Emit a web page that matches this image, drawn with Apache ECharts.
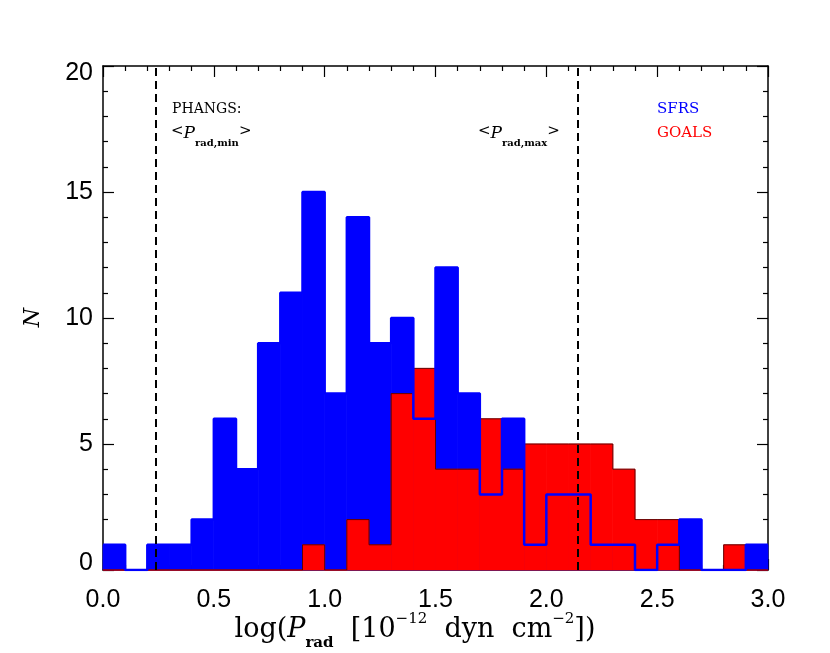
<!DOCTYPE html>
<html>
<head>
<meta charset="utf-8">
<script src="https://cdn.jsdelivr.net/npm/echarts@6/dist/echarts.min.js"></script>
<style>
  html, body { margin: 0; padding: 0; background: #fff; }
  #chartshow { width: 830px; height: 653px; }
</style>
</head>
<body>
<div id="chartshow"></div>
<script>
// bin left edges, width 0.1
const binStarts = [0.0, 0.1, 0.2, 0.3, 0.4, 0.5, 0.6, 0.7, 0.8, 0.9,
  1.0, 1.1, 1.2, 1.3, 1.4, 1.5, 1.6, 1.7, 1.8, 1.9,
  2.0, 2.1, 2.2, 2.3, 2.4, 2.5, 2.6, 2.7, 2.8, 2.9];
const binWidth = 0.1;
// SFRS counts (blue)
const sfrsCounts = [1, 0, 1, 1, 2, 6, 4, 9, 11, 15,
  7, 14, 9, 10, 6, 12, 7, 3, 6, 1,
  3, 3, 1, 1, 0, 1, 2, 0, 0, 1];
// GOALS counts (red)
const goalsCounts = [0, 0, 0, 0, 0, 0, 0, 0, 0, 1,
  0, 2, 1, 7, 8, 4, 4, 6, 4, 5,
  5, 5, 5, 4, 2, 2, 0, 0, 1, 0];
// PHANGS mean min / max (dashed lines)
const phangsLines = [0.24, 2.14];

const xTicks = { min: 0, max: 3, interval: 0.5 };
const yTicks = { min: 0, max: 20, interval: 5 };

const serif = 'DejaVu Serif';
const sans = 'Liberation Sans';

// histogram rectangles
const histData = (counts) => binStarts.map((x, i) => [x, x + binWidth, counts[i]]);

const makeRender = (fill) => (params, api) => {
  const p0 = api.coord([api.value(0), 0]);
  const p1 = api.coord([api.value(1), api.value(2)]);
  return {
    type: 'rect',
    shape: { x: p0[0], y: p1[1], width: p1[0] - p0[0], height: p0[1] - p1[1] },
    style: { fill: fill, stroke: fill, lineWidth: 0.8 },
  };
};

// step outlines of the histograms
const stepData = (counts) => {
  const pts = binStarts.map((x, i) => [x, counts[i]]);
  pts.push([binStarts[binStarts.length - 1] + binWidth, counts[counts.length - 1]]);
  return pts;
};

const axisCommon = {
  axisLine: { show: true, onZero: false, lineStyle: { color: '#000', width: 1.5 } },
  axisTick: { show: true, inside: true, length: 11, lineStyle: { color: '#000', width: 1.2 } },
  minorTick: { show: true, splitNumber: 5, length: 5, lineStyle: { color: '#000', width: 1.2 } },
  splitLine: { show: false },
};

const chart_option = {
  animation: false,
  grid: { left: 103, right: 62, top: 66, bottom: 83 },
  xAxis: [
    Object.assign({
      type: 'value', position: 'bottom',
      min: xTicks.min, max: xTicks.max, interval: xTicks.interval,
      axisLabel: {
        fontFamily: sans, fontSize: 25, color: '#000', margin: 18,
        formatter: (v) => v.toFixed(1),
      },
    }, axisCommon),
    Object.assign({
      type: 'value', position: 'top',
      min: xTicks.min, max: xTicks.max, interval: xTicks.interval,
      axisLabel: { show: false },
    }, axisCommon),
  ],
  yAxis: [
    Object.assign({
      type: 'value', position: 'left',
      min: yTicks.min, max: yTicks.max, interval: yTicks.interval,
      axisLabel: {
        fontFamily: sans, fontSize: 25, color: '#000', margin: 10, lineHeight: 14,
        verticalAlignMinLabel: 'bottom', verticalAlignMaxLabel: 'top',
      },
    }, axisCommon),
    Object.assign({
      type: 'value', position: 'right',
      min: yTicks.min, max: yTicks.max, interval: yTicks.interval,
      axisLabel: { show: false },
    }, axisCommon),
  ],
  series: [
    {
      name: 'SFRS', type: 'custom', z: 1,
      renderItem: makeRender('#0000ff'),
      data: histData(sfrsCounts),
    },
    {
      name: 'GOALS', type: 'custom', z: 2,
      renderItem: makeRender('#ff0000'),
      data: histData(goalsCounts),
    },
    {
      name: 'GOALS outline', type: 'line', z: 3,
      step: 'end', symbol: 'none',
      lineStyle: { color: '#3a0000', width: 0.8 },
      data: stepData(goalsCounts),
    },
    {
      name: 'SFRS outline', type: 'line', z: 4,
      step: 'end', symbol: 'none',
      lineStyle: { color: '#0000ff', width: 2.5 },
      data: stepData(sfrsCounts),
      markLine: {
        silent: true, symbol: 'none', label: { show: false },
        lineStyle: { color: '#000', width: 2, type: [8, 5] },
        data: phangsLines.map((v) => ({ xAxis: v })),
      },
    },
  ],
  graphic: [
    {
      type: 'text', left: 172, top: 102, z: 10,
      style: { text: 'PHANGS:', fontFamily: serif, fontSize: 14, fill: '#000' },
    },
    {
      type: 'text', left: 171, top: 124, z: 10,
      style: {
        text: '<{i|P}{s|rad,min}>', fontFamily: serif, fontSize: 15, fill: '#000',
        rich: {
          i: { fontFamily: serif, fontStyle: 'italic', fontSize: 17, lineHeight: 22, verticalAlign: 'bottom' },
          s: { fontFamily: serif, fontWeight: 'bold', fontSize: 10, lineHeight: 22, verticalAlign: 'bottom', padding: [0, 0, -6, 0] },
        },
      },
    },
    {
      type: 'text', left: 478, top: 124, z: 10,
      style: {
        text: '<{i|P}{s|rad,max}>', fontFamily: serif, fontSize: 15, fill: '#000',
        rich: {
          i: { fontFamily: serif, fontStyle: 'italic', fontSize: 17, lineHeight: 22, verticalAlign: 'bottom' },
          s: { fontFamily: serif, fontWeight: 'bold', fontSize: 10, lineHeight: 22, verticalAlign: 'bottom', padding: [0, 0, -6, 0] },
        },
      },
    },
    {
      type: 'text', left: 657, top: 102, z: 10,
      style: { text: 'SFRS', fontFamily: serif, fontSize: 15, fill: '#0000ff' },
    },
    {
      type: 'text', left: 657, top: 126, z: 10,
      style: { text: 'GOALS', fontFamily: serif, fontSize: 15, fill: '#ff0000' },
    },
    {
      type: 'text', left: 22, top: 308, rotation: Math.PI / 2, z: 10,
      style: { text: 'N', fontFamily: serif, fontStyle: 'italic', fontSize: 22, fill: '#000' },
    },
    {
      type: 'text', left: 'center', top: 612, z: 10,
      style: {
        text: 'log({i|P}{sub|rad}  [10{sup|−12}  dyn  cm{sup|−2}])',
        fontFamily: serif, fontSize: 27, fill: '#000',
        rich: {
          i: { fontFamily: serif, fontStyle: 'italic', fontSize: 27, lineHeight: 36 },
          sub: { fontFamily: serif, fontWeight: 'bold', fontSize: 15, lineHeight: 36, verticalAlign: 'bottom', padding: [0, 0, -3, 0] },
          sup: { fontFamily: serif, fontSize: 15, lineHeight: 36, verticalAlign: 'top' },
        },
      },
    },
  ],
};

const myChart = echarts.init(document.getElementById('chartshow'));
myChart.setOption(chart_option);
</script>
</body>
</html>
